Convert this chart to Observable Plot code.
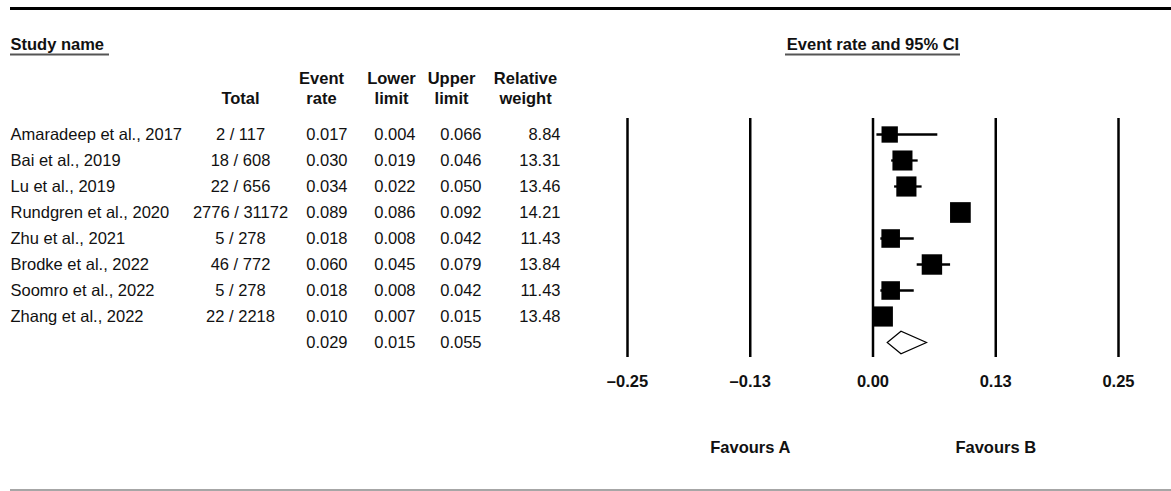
<!DOCTYPE html>
<html>
<head>
<meta charset="utf-8">
<script src="https://cdn.jsdelivr.net/npm/d3@7"></script>
<script src="https://cdn.jsdelivr.net/npm/@observablehq/plot@0.6"></script>
<style>
  html, body { margin: 0; padding: 0; background: #fff; }
  #chart svg { display: block; }
</style>
</head>
<body>
<div id="chart"></div>
<script>
// Study-level data
const studyNames = [
  "Amaradeep et al., 2017",
  "Bai et al., 2019",
  "Lu et al., 2019",
  "Rundgren et al., 2020",
  "Zhu et al., 2021",
  "Brodke et al., 2022",
  "Soomro et al., 2022",
  "Zhang et al., 2022"
];
const events = [2, 18, 22, 2776, 5, 46, 5, 22];
const totals = [117, 608, 656, 31172, 278, 772, 278, 2218];
const eventRates = [0.017, 0.030, 0.034, 0.089, 0.018, 0.060, 0.018, 0.010];
const lowerLimits = [0.004, 0.019, 0.022, 0.086, 0.008, 0.045, 0.008, 0.007];
const upperLimits = [0.066, 0.046, 0.050, 0.092, 0.042, 0.079, 0.042, 0.015];
const relativeWeights = [8.84, 13.31, 13.46, 14.21, 11.43, 13.84, 11.43, 13.48];

// Pooled estimate
const pooledRate = 0.029;
const pooledLower = 0.015;
const pooledUpper = 0.055;

// Axis
const tickValues = [-0.25, -0.125, 0, 0.125, 0.25];
const tickLabels = ["\u20130.25", "\u20130.13", "0.00", "0.13", "0.25"];
const favourLabels = ["Favours A", "Favours B"];
const favourPositions = [-0.125, 0.125];

const POOLED = "__pooled__";
const studies = studyNames.map((name, i) => ({
  name,
  total: `${events[i]} / ${totals[i]}`,
  rate: eventRates[i],
  lower: lowerLimits[i],
  upper: upperLimits[i],
  weight: relativeWeights[i]
}));
const pooled = [{name: POOLED, rate: pooledRate, lower: pooledLower, upper: pooledUpper}];
const tableRows = [...studies, ...pooled];
const rowKeys = [...studyNames, POOLED];

const FONT = "'Liberation Sans', Arial, Helvetica, sans-serif";
const FS = 16.5;
const W = 1171, H = 491;
const mLeft = 627, mRight = 53, mTop = 118, mBottom = 134;

// left-hand table column anchors (pixels from the page's left edge)
const col = {name: 10, total: 240, rate: 347, lower: 415, upper: 481, weight: 560};
const hdr = {total: 240, rate: 321, lower: 391, upper: 451, weight: 525};
const off = px => px - mLeft;

const headerBottom = 103; // baseline of the last header line

function colText(data, key, fmt, x, anchor) {
  return Plot.text(data, {
    y: "name",
    text: d => fmt(d[key]),
    frameAnchor: "left",
    dx: off(x),
    textAnchor: anchor,
    fontSize: FS,
    fill: "#111"
  });
}

function header(text, x, baseline, opts = {}) {
  return Plot.text([text], {
    text: d => d,
    frameAnchor: "top-left",
    dx: off(x),
    dy: baseline - mTop,
    lineAnchor: "bottom",
    lineHeight: 20 / FS,
    textAnchor: "middle",
    fontSize: FS,
    fontWeight: "bold",
    fill: "#111",
    ...opts
  });
}

const chart = Plot.plot({
  width: W,
  height: H,
  marginLeft: mLeft,
  marginRight: mRight,
  marginTop: mTop,
  marginBottom: mBottom,
  style: {fontFamily: FONT, fontSize: FS + "px", color: "#111", background: "#fff", overflow: "visible"},
  x: {domain: [-0.25, 0.25]},
  y: {type: "point", domain: rowKeys, range: [131.5, 345], padding: 0, axis: null},
  r: {type: "sqrt", domain: [0, 16], range: [0, 12.4]},
  marks: [
    // reference lines
    Plot.ruleX(tickValues, {stroke: "#000", strokeWidth: 2.5}),
    Plot.axisX(tickValues, {
      tickFormat: d => tickLabels[tickValues.indexOf(d)],
      tickSize: 0,
      tickPadding: 18,
      fontSize: FS,
      fontWeight: "bold",
      fill: "#111",
      label: null
    }),
    Plot.text(favourLabels, {
      x: (d, i) => favourPositions[i],
      text: d => d,
      frameAnchor: "bottom",
      dy: 95,
      fontSize: FS,
      fontWeight: "bold",
      fill: "#111"
    }),
    // confidence intervals and weighted squares
    Plot.ruleY(studies, {y: "name", x1: "lower", x2: "upper", stroke: "#000", strokeWidth: 2.3}),
    Plot.dot(studies, {x: "rate", y: "name", r: "weight", symbol: "square", fill: "#000", stroke: "none"}),
    // pooled diamond
    (index, scales) => {
      const g = d3.create("svg:g");
      const p = pooled[0];
      const cy = scales.y(p.name) + 0.5;
      const h = 11.2;
      const xl = scales.x(p.lower), xm = scales.x(p.rate), xu = scales.x(p.upper);
      g.append("path")
        .attr("d", `M${xl},${cy}L${xm},${cy - h}L${xu},${cy}L${xm},${cy + h}Z`)
        .attr("fill", "#fff")
        .attr("stroke", "#000")
        .attr("stroke-width", 1.2);
      return g.node();
    },
    // table body
    colText(studies, "name", d => d, col.name, "start"),
    colText(studies, "total", d => d, col.total, "middle"),
    colText(tableRows, "rate", d => d.toFixed(3), col.rate, "end"),
    colText(tableRows, "lower", d => d.toFixed(3), col.lower, "end"),
    colText(tableRows, "upper", d => d.toFixed(3), col.upper, "end"),
    colText(studies, "weight", d => d.toFixed(2), col.weight, "end"),
    // table headers
    header("Study name", col.name, 49, {textAnchor: "start"}),
    header("Total", hdr.total, headerBottom),
    header("Event\nrate", hdr.rate, headerBottom),
    header("Lower\nlimit", hdr.lower, headerBottom),
    header("Upper\nlimit", hdr.upper, headerBottom),
    header("Relative\nweight", hdr.weight, headerBottom),
    Plot.text(["Event rate and 95% CI"], {
      x: () => 0,
      text: d => d,
      frameAnchor: "top",
      dy: 49 - mTop,
      lineAnchor: "bottom",
      fontSize: FS,
      fontWeight: "bold",
      fill: "#111"
    }),
    // rules framing the figure and header underlines
    (index, scales) => {
      const g = d3.create("svg:g").attr("fill", "none");
      g.append("line").attr("x1", 10).attr("x2", W).attr("y1", 8.5).attr("y2", 8.5)
        .attr("stroke", "#000").attr("stroke-width", 3);
      g.append("line").attr("x1", 10).attr("x2", W).attr("y1", 490).attr("y2", 490)
        .attr("stroke", "#888").attr("stroke-width", 1.5);
      g.append("line").attr("x1", 10).attr("x2", 109).attr("y1", 54.5).attr("y2", 54.5)
        .attr("stroke", "#555").attr("stroke-width", 2);
      const cx = scales.x(0);
      g.append("line").attr("x1", cx - 87.5).attr("x2", cx + 87.5).attr("y1", 54.5).attr("y2", 54.5)
        .attr("stroke", "#555").attr("stroke-width", 2);
      return g.node();
    }
  ]
});

document.getElementById("chart").appendChild(chart);
</script>
</body>
</html>
